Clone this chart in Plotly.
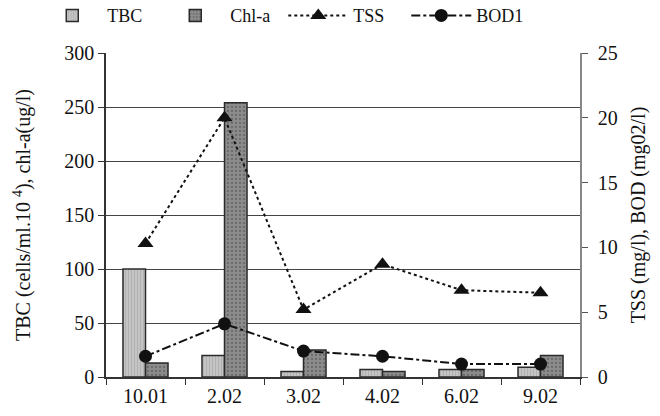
import plotly.graph_objects as go
from plotly.subplots import make_subplots

dates = ["10.01", "2.02", "3.02", "4.02", "6.02", "9.02"]
tbc = [100, 20, 5, 7, 7, 9]
chla = [13, 254, 25, 5, 7, 20]
tss = [10.3, 20.0, 5.2, 8.7, 6.7, 6.5]
bod1 = [1.6, 4.1, 2.0, 1.6, 1.0, 1.0]

FONT = "Liberation Serif, Times New Roman, serif"

fig = make_subplots(specs=[[{"secondary_y": True}]])

fig.add_trace(go.Bar(
    x=dates, y=tbc, name="TBC",
    marker=dict(color="#c4c4c4", line=dict(color="#2a2a2a", width=1.5),
                pattern=dict(shape="|", fgcolor="#9a9a9a", size=3, solidity=0.3)),
), secondary_y=False)
fig.add_trace(go.Bar(
    x=dates, y=chla, name="Chl-a",
    marker=dict(color="#8c8c8c", line=dict(color="#2a2a2a", width=1.5),
                pattern=dict(shape=".", fgcolor="#4a4a4a", size=4, solidity=0.25)),
), secondary_y=False)
fig.add_trace(go.Scatter(
    x=dates, y=tss, name="TSS", mode="lines+markers",
    line=dict(color="#111111", width=2, dash="dot"),
    marker=dict(symbol="triangle-up", size=14, color="#111111"),
), secondary_y=True)
fig.add_trace(go.Scatter(
    x=dates, y=bod1, name="BOD1", mode="lines+markers",
    line=dict(color="#111111", width=2, dash="dashdot"),
    marker=dict(symbol="circle", size=13, color="#111111"),
), secondary_y=True)

fig.update_layout(
    width=660, height=416,
    margin=dict(l=106, r=80, t=53, b=39, autoexpand=False),
    paper_bgcolor="white", plot_bgcolor="white",
    font=dict(family=FONT, size=20, color="#111111"),
    barmode="group", bargap=0.43, bargroupgap=0,
    legend=dict(orientation="h", x=-0.145, y=1.115, xanchor="left", yanchor="middle",
                font=dict(family=FONT, size=18), itemwidth=60,
                entrywidth=48, entrywidthmode="pixels",
                bgcolor="rgba(0,0,0,0)", traceorder="normal"),
)

fig.update_xaxes(
    domain=[0, 1],
    type="category", showline=True, linecolor="#333333", linewidth=1.5,
    ticks="outside", tickson="boundaries", ticklen=6, tickcolor="#333333",
    showgrid=False, tickfont=dict(family=FONT, size=20), automargin=False,
)
fig.update_yaxes(
    range=[0, 300], tickvals=[0, 50, 100, 150, 200, 250, 300],
    showline=True, linecolor="#333333", linewidth=1.5,
    ticks="outside", ticklen=6, tickcolor="#333333",
    showgrid=True, gridcolor="#444444", gridwidth=1, zeroline=False,
    tickfont=dict(family=FONT, size=20), automargin=False,
    title=dict(text="TBC (cells/ml.10 <sup>4</sup>), chl-a(ug/l)", font=dict(family=FONT, size=20), standoff=28),
    secondary_y=False,
)
fig.update_yaxes(
    range=[0, 25], tickvals=[0, 5, 10, 15, 20, 25],
    showline=True, linecolor="#888888", linewidth=1.5,
    ticks="outside", ticklen=6, tickcolor="#555555", ticklabelstandoff=6,
    showgrid=False, zeroline=False,
    tickfont=dict(family=FONT, size=20), automargin=False,
    title=dict(text="TSS (mg/l), BOD (mg02/l)", font=dict(family=FONT, size=20), standoff=14),
    secondary_y=True,
)

fig.write_html("out.html")
